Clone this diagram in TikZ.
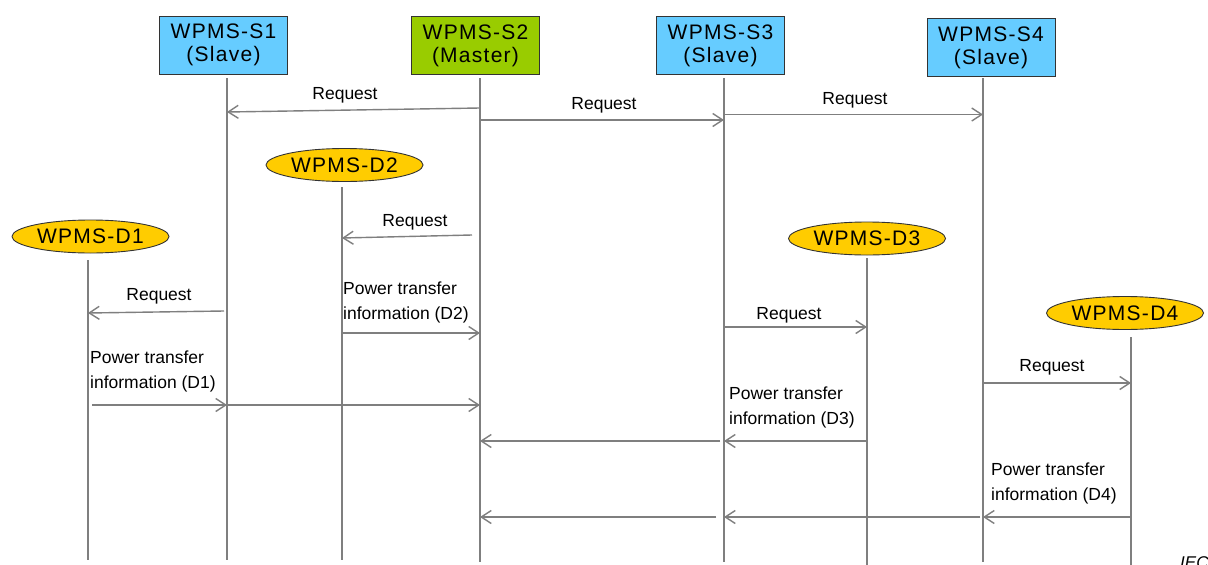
\documentclass[tikz,border=0pt]{standalone}
\usepackage{fontspec}
\setmainfont{Liberation Sans}
\newfontfamily\boxfont[LetterSpace=6]{Liberation Sans}
\usetikzlibrary{arrows.meta,shapes.geometric}
\definecolor{slaveblue}{HTML}{66CCFF}
\definecolor{mastergreen}{HTML}{99CC00}
\definecolor{devyellow}{HTML}{FFCC00}
\definecolor{linegray}{HTML}{7F7F7F}
\tikzset{
  entbox/.style={draw=black!80, line width=0.9pt, minimum width=128pt, minimum height=58pt, align=center, inner sep=0pt, font=\boxfont\fontsize{21}{23}\selectfont},
  devell/.style={ellipse, draw=black!80, line width=0.9pt, fill=devyellow, minimum width=157pt, minimum height=33pt, inner sep=0pt, font=\boxfont\fontsize{21}{23}\selectfont},
  lifeline/.style={draw=linegray, line width=1.4pt},
  msg/.style={draw=linegray, line width=1.4pt, -{Straight Barb[length=10pt,width=13pt,line width=1.4pt]}},
  lbl/.style={font=\fontsize{17.5}{25}\selectfont, inner sep=0pt},
  mlbl/.style={font=\fontsize{17.5}{25}\selectfont, inner sep=0pt, align=left, anchor=north west},
}
\begin{document}
\begin{tikzpicture}[x=1pt,y=-1pt]
\useasboundingbox[fill=white] (0,0) rectangle (1208,565);
% entities
\node[entbox, fill=slaveblue] (S1) at (223.5,45) {WPMS-S1\\(Slave)};
\node[entbox, fill=mastergreen] (S2) at (475.5,45.5) {WPMS-S2\\(Master)};
\node[entbox, fill=slaveblue] (S3) at (720.5,45.5) {WPMS-S3\\(Slave)};
\node[entbox, fill=slaveblue] (S4) at (991,47.5) {WPMS-S4\\(Slave)};
\node[devell] (D1) at (90.5,236.5) {WPMS-D1};
\node[devell] (D2) at (344.5,165) {WPMS-D2};
\node[devell] (D3) at (867,238.5) {WPMS-D3};
\node[devell] (D4) at (1125,313) {WPMS-D4};
% lifeline tops and ends
\coordinate (tS1) at (227,78);   \coordinate (eS1) at (227,560);
\coordinate (tS2) at (480,78);   \coordinate (eS2) at (480,562);
\coordinate (tS3) at (724,78);   \coordinate (eS3) at (724,562);
\coordinate (tS4) at (983,78);   \coordinate (eS4) at (983,562);
\coordinate (tD1) at (88,260);   \coordinate (eD1) at (88,560);
\coordinate (tD2) at (342,187);  \coordinate (eD2) at (342,560);
\coordinate (tD3) at (867,258);  \coordinate (eD3) at (867,565);
\coordinate (tD4) at (1131,337); \coordinate (eD4) at (1131,565);
\foreach \n in {S1,S2,S3,S4,D1,D2,D3,D4} \draw[lifeline] (t\n) -- (e\n);
% messages
\draw[msg] (tS2 |- 0,108) -- (tS1 |- 0,112);
\node[lbl] (m1) at (345,95) {Request};
\draw[msg] (tS2 |- 0,120) -- (tS3 |- 0,120);
\node[lbl] (m2) at (604,105) {Request};
\draw[msg] (tS3 |- 0,114.5) -- (tS4 |- 0,114.5);
\node[lbl] (m3) at (855,100) {Request};
\draw[msg] (472,235) -- (tD2 |- 0,238);
\node[lbl] (m4) at (415,222) {Request};
\draw[msg] (224,311) -- (tD1 |- 0,313);
\node[lbl] (m5) at (159,296) {Request};
\node[mlbl] (m6) at (343,282) {Power transfer\\information (D2)};
\draw[msg] (tD2 |- 0,333) -- (tS2 |- 0,333);
\draw[msg] (tS3 |- 0,327) -- (tD3 |- 0,327);
\node[lbl] (m7) at (789,315) {Request};
\node[mlbl] (m8) at (90,351) {Power transfer\\information (D1)};
\draw[msg] (92,405) -- (tS1 |- 0,405);
\draw[msg] (tS1 |- 0,405) -- (tS2 |- 0,405);
\draw[msg] (tS4 |- 0,383) -- (tD4 |- 0,383);
\node[lbl] (m9) at (1052,367) {Request};
\node[mlbl] (m10) at (729,387) {Power transfer\\information (D3)};
\draw[msg] (tD3 |- 0,441) -- (tS3 |- 0,441);
\draw[msg] (720,441) -- (tS2 |- 0,441);
\node[mlbl] (m11) at (991,463) {Power transfer\\information (D4)};
\draw[msg] (tD4 |- 0,517) -- (tS4 |- 0,517);
\draw[msg] (980,517) -- (tS3 |- 0,517);
\draw[msg] (716,517) -- (tS2 |- 0,517);
\node[font=\fontsize{17}{20}\selectfont\itshape, anchor=north west, inner sep=0pt] (iec) at (1180,556) {IEC};
\end{tikzpicture}
\end{document}
